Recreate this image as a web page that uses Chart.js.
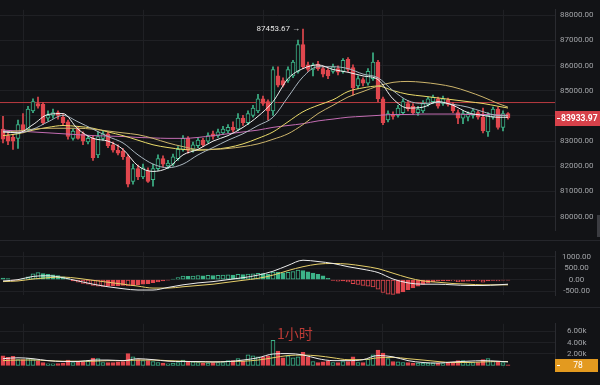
<!DOCTYPE html>
<html><head><meta charset="utf-8">
<script src="https://cdn.jsdelivr.net/npm/chart.js@4.4.1/dist/chart.umd.min.js"></script>
<style>
html,body{margin:0;padding:0;background:#121316;}
body{width:600px;height:385px;position:relative;overflow:hidden;}
.pane{position:absolute;left:0;width:600px;}
.sep{position:absolute;left:0;width:600px;height:1px;background:#25262b;}
#wm{position:absolute;left:277px;top:326px;font:14px/15px "Noto Sans CJK SC",sans-serif;color:#bd3b36;}
#knob{position:absolute;left:597px;top:215px;width:3px;height:22px;background:#3b3c41;}
</style></head><body>
<div class="pane" style="top:0;height:240px"><canvas id="cMain"></canvas></div>
<div class="pane" style="top:240px;height:67px"><canvas id="cMacd"></canvas></div>
<div class="pane" style="top:307px;height:78px"><canvas id="cVol"></canvas></div>
<div class="sep" style="top:240px"></div>
<div class="sep" style="top:307px"></div>
<div id="knob"></div>
<div id="wm">1小时</div>
<script>
// ---------- data (1h BTC candles) ----------
const opens = [83474,83219,83146,83109,83657,83474,84204,84496,84460,83912,
84022,84131,83949,83766,83109,83474,83292,82963,83109,82452,
83109,83292,82854,82635,82598,82379,81394,81905,81576,81832,
81467,81905,82306,82014,82087,82306,82671,83109,82671,82817,
83036,83000,83292,83219,83328,83401,83547,83474,83912,83730,
84022,84204,84679,84569,84204,85591,85409,85409,85591,85774,
86832,86029,85847,86066,85883,85810,85774,85883,85774,86248,
85920,85190,85445,85299,85482,86139,84679,83839,84058,84022,
84131,84496,84387,84131,84204,84460,84569,84679,84496,84642,
84460,84131,83912,83949,84022,84131,83949,83365,83949,84277,
83547,84095];
const highs = [83985,83365,83255,83839,84095,84387,84679,84752,84533,84204,
84277,84204,84058,83839,83474,83547,83365,83219,83219,83365,
83401,83365,82963,82854,82708,82452,82087,82051,82087,81941,
82087,82452,82416,82233,82489,82781,83219,83182,82963,83146,
83109,83328,83401,83474,83584,83657,83766,84095,84022,84204,
84423,84861,84788,84642,85956,85956,85518,85956,86212,87015,
87453.67,86139,86102,86175,85956,85883,86066,85993,86285,86321,
86029,85591,85518,85883,86504,86212,84752,84204,84168,84423,
84679,84606,84496,84387,84606,84752,84825,84752,84788,84715,
84533,84241,84204,84168,84277,84204,84314,84131,84350,84350,
84204,84131];
const lows = [82927,82854,82671,82708,83328,83401,84131,84314,83657,83803,
83912,83876,83657,83073,83036,83073,82854,82890,82233,82343,
83036,82744,82562,82452,82270,81175,81284,81467,81503,81357,
81211,81832,81978,81905,82014,82233,82598,82525,82562,82744,
82781,82927,83073,83146,83255,83328,83365,83401,83620,83657,
83949,84131,84423,83839,84022,85153,85153,85336,85518,85701,
85883,85774,85591,85810,85555,85482,85701,85628,85701,85774,
84825,85080,85190,85226,85409,84569,83657,83766,83876,83949,
84058,84204,84058,84022,84131,84387,84496,84314,84423,84387,
84131,83693,83693,83803,83912,83876,83328,83182,83876,83474,
83401,83876];
const closes = [83073,83000,83000,83657,83401,84277,84569,84387,83730,84022,
84131,84022,83730,83182,83401,83109,83000,83109,82343,83182,
83292,82817,82635,82525,82379,81284,81905,81576,81941,81394,
81905,82306,82087,82124,82379,82671,83109,82635,82854,83036,
82854,83219,83182,83365,83474,83547,83438,83912,83730,84095,
84314,84679,84496,84204,85847,85226,85226,85847,86139,86832,
85956,85847,86029,85883,85664,85591,85956,85737,86212,85847,
85117,85482,85299,85774,86139,84679,83730,84095,83985,84314,
84569,84277,84131,84277,84496,84679,84752,84387,84679,84460,
84204,83912,84095,84095,84204,83949,83401,84022,84277,83547,
84095,83933.97];
const volumes = [1670,1400,1600,1000,1000,1170,1000,730,500,270,
270,330,400,930,500,600,600,730,1270,1170,
500,500,500,600,670,2070,1500,1000,830,830,
670,500,400,270,400,500,930,730,600,500,
400,400,500,500,500,830,830,1170,730,1830,
1670,1500,1500,1670,4400,2500,1330,1670,1330,1500,
2270,1500,670,500,600,730,500,500,670,670,
1500,500,500,1070,1830,2670,2170,1170,670,600,
500,500,400,400,400,400,400,400,330,400,
500,830,830,600,500,500,1000,1170,730,730,
500,78];
const macdHist = [70,50,-30,-20,40,120,250,310,260,230,
210,180,120,40,-60,-110,-160,-200,-250,-280,
-290,-280,-270,-260,-250,-270,-265,-230,-200,-170,
-130,-100,-60,-20,30,90,160,140,160,180,
170,190,180,190,200,210,200,230,220,240,
250,280,260,230,330,320,300,320,350,420,
400,340,290,230,170,60,-30,-70,-60,-100,
-170,-210,-250,-280,-320,-420,-560,-630,-640,-600,
-530,-440,-360,-280,-210,-150,-100,-60,-40,-40,
-60,-90,-80,-70,-50,-60,-110,-60,-30,-50,
-20,-15];
// indicator lines, sampled at these candle indices
const maIdx = [0,3,6,9,12,15,18,21,24,27,30,33,36,39,42,45,48,51,54,57,60,63,66,69,72,75,78,81,84,87,90,93,96,99,101];
const ma5 = [83364.5,83328,83656.5,84058,84094.5,83474,83109,82999.5,82671,82014,81795,81941,82452,82671,82999.5,83218.5,83547,83985,84569,85481.5,85883,86029,85846.5,85737,85591,85445,84678.5,84313.5,84350,84569,84423,84131,84021.5,83948.5,83948.5];
const ma10 = [83401,83328,83474,83766,84021.5,83766,83474,83182,82926.5,82452,82087,81941,82087,82452,82744,83036,83291.5,83620,83948.5,84751.5,85554.5,85956,85956,85883,85664,85518,85007,84605.5,84496,84532.5,84459.5,84350,84167.5,84021.5,84021.5];
const ma20 = [83218.5,83291.5,83437.5,83547,83620,83583.5,83510.5,83364.5,83218.5,83036,82853.5,82744,82671,82634.5,82671,82744,82890,83109,83364.5,83766,84167.5,84423,84642,84970.5,85116.5,85189.5,85007,84861,84788,84715,84642,84569,84496,84386.5,84313.5];
const ma30 = [83364.5,83401,83474,83510.5,83510.5,83510.5,83474,83401,83328,83255,83109,82926.5,82780.5,82671,82671,82707.5,82780.5,82890,83072.5,83291.5,83656.5,84094.5,84423,84751.5,84970.5,85189.5,85335.5,85372,85335.5,85262.5,85153,84970.5,84751.5,84496,84350];
const ma60 = [83437.5,83401,83364.5,83328,83291.5,83255,83218.5,83200,83182,83145.5,83127,83109,83109,83145.5,83218.5,83291.5,83364.5,83437.5,83547,83620,83693,83802.5,83875.5,83948.5,83985,84021.5,84058,84058,84076,84076,84076,84058,84058,84040,84021.5];
const dif = [-56.5,0,141.3,169.5,84.8,-56.5,-197.8,-310.8,-395.5,-452,-452,-339,-226,-141.3,-84.8,0,84.8,197.8,367.3,621.5,847.5,791,706.3,565,452,310.8,28.3,-141.3,-197.8,-197.8,-226,-254.3,-254.3,-226,-197.8];
const dea = [-84.8,-56.5,28.3,84.8,113,56.5,-28.3,-113,-197.8,-282.5,-367.3,-367.3,-310.8,-254.3,-197.8,-113,-28.3,56.5,197.8,395.5,565,678,706.3,678,593.3,480.3,282.5,84.8,-56.5,-113,-169.5,-197.8,-226,-226,-226];
const vma5 = [1170,1330,1170,830,670,670,930,930,830,1170,1000,730,670,670,600,670,930,1330,2000,2070,1830,1170,830,830,1000,1730,1500,830,500,400,600,730,830,730,600];
const vma10 = [830,930,930,830,730,730,730,830,830,930,930,830,730,600,600,670,730,930,1330,1730,1800,1670,1330,1000,1000,1330,1400,1170,930,670,500,500,600,670,670];
// axis ticks and markers
const priceTicks = [80000,81000,82000,83000,84000,85000,86000,87000,88000];
const macdTicks = [-500,0,500,1000];
const volTicks = [2000,4000,6000];
const dayGrid = [4,28,52,76,100];
const refPrice = 84532.5;

// ---------- styling ----------
const BG = '#121316', GRID = '#1f2024', AXIS = '#2a2b30', TICK = '#a2a4a8';
const RED = '#e0474e', GREEN = '#3db489';
const X_MIN = -0.6, X_MAX = 110.4;
const idx = closes.map((_, i) => i);
const up = idx.map(i => closes[i] >= opens[i]);
const lastPrice = closes[closes.length - 1];
const highMax = Math.max(...highs);
const highIdx = highs.indexOf(highMax);

const xScale = () => ({
  type: 'linear', min: X_MIN, max: X_MAX, offset: false,
  afterBuildTicks: s => { s.ticks = dayGrid.map(v => ({value: v})); },
  ticks: {display: false},
  grid: {color: GRID, drawTicks: false, offset: false},
  border: {display: false}
});
const yScale = (min, max, ticks, fmt, pad) => ({
  type: 'linear', position: 'right', min, max,
  afterBuildTicks: s => { s.ticks = ticks.map(v => ({value: v})); },
  afterFit: s => { s.width = 45; },
  ticks: {color: TICK, font: {family: 'Roboto', size: 8}, padding: pad, crossAlign: 'center', callback: fmt},
  grid: {color: GRID, drawTicks: false},
  border: {display: true, color: AXIS}
});
const baseOpts = (scales) => ({
  responsive: true, maintainAspectRatio: false, animation: false, events: [],
  devicePixelRatio: 1,
  layout: {padding: 0},
  plugins: {legend: {display: false}, tooltip: {enabled: false}},
  scales
});
const line = (xs, vals, color, order) => ({
  type: 'line', data: xs.map((x, k) => ({x, y: vals[k]})),
  borderColor: color, borderWidth: 1, pointRadius: 0,
  cubicInterpolationMode: 'monotone', order
});

// ---------- main chart ----------
const mainTags = {
  id: 'mainTags',
  afterDraw(chart) {
    const {ctx, chartArea: a, scales: {x, y}} = chart;
    const py = Math.round(y.getPixelForValue(lastPrice));
    ctx.save();
    ctx.fillStyle = '#d6414a';
    ctx.fillRect(a.right, py - 7, chart.width - a.right, 15);
    ctx.fillStyle = '#ffffff';
    ctx.fillRect(a.right + 2, py, 3, 1);
    ctx.font = 'bold 8.5px Roboto';
    ctx.textBaseline = 'middle'; ctx.textAlign = 'left';
    ctx.fillText(lastPrice.toFixed(2), a.right + 6, py + 0.5);
    const hx = x.getPixelForValue(highIdx), hy = y.getPixelForValue(highMax);
    ctx.font = '8px Roboto'; ctx.fillStyle = '#e4e4e4'; ctx.textAlign = 'right';
    ctx.fillText(highMax.toFixed(2) + ' \u2192', hx - 3, hy);
    ctx.restore();
  }
};
new Chart(document.getElementById('cMain'), {
  type: 'bar',
  data: {datasets: [
    {type: 'line', data: [{x: X_MIN, y: refPrice}, {x: X_MAX, y: refPrice}], borderColor: 'rgba(214,66,72,0.85)', borderWidth: 1, pointRadius: 0, order: 6},
    {data: idx.map(i => ({x: i, y: [lows[i], highs[i]]})), backgroundColor: idx.map(i => up[i] ? GREEN : RED), barThickness: 1, grouped: false, minBarLength: 1, order: 5},
    {data: idx.map(i => ({x: i, y: [opens[i], closes[i]]})), backgroundColor: idx.map(i => up[i] ? BG : RED), borderColor: idx.map(i => up[i] ? GREEN : RED), borderWidth: 1, borderSkipped: false, barThickness: 4, grouped: false, minBarLength: 1, order: 4},
    line(maIdx, ma60, '#c46db3', 3),
    line(maIdx, ma30, '#cdb56c', 2),
    line(maIdx, ma20, '#ebdc6a', 2),
    line(maIdx, ma10, '#aab7c0', 1),
    line(maIdx, ma5, '#f2f2f2', 0)
  ]},
  options: baseOpts({x: xScale(), y: yScale(79459, 88219, priceTicks, v => v.toFixed(2), 5)}),
  plugins: [mainTags]
});

// ---------- MACD ----------
const histBorder = macdHist.map(v => v >= 0 ? GREEN : RED);
const histFill = macdHist.map((v, i) => {
  const prev = i > 0 ? macdHist[i - 1] : 0;
  const hollow = Math.sign(v) === Math.sign(prev) && Math.abs(v) > Math.abs(prev);
  return hollow ? BG : (v >= 0 ? GREEN : RED);
});
new Chart(document.getElementById('cMacd'), {
  type: 'bar',
  data: {datasets: [
    {data: idx.map(i => ({x: i, y: macdHist[i]})), backgroundColor: histFill, borderColor: histBorder, borderWidth: 1, borderSkipped: false, barThickness: 4, grouped: false, order: 3},
    line(maIdx, dea, '#e6cf6a', 1),
    line(maIdx, dif, '#ececec', 0)
  ]},
  options: baseOpts({x: xScale(), y: yScale(-678, 1214.75, macdTicks, v => v.toFixed(2), 7)})
});

// ---------- volume ----------
const volTag = {
  id: 'volTag',
  afterDraw(chart) {
    const {ctx, chartArea: a, scales: {y}} = chart;
    const v = volumes[volumes.length - 1];
    const py = Math.round(y.getPixelForValue(v));
    ctx.save();
    ctx.fillStyle = '#e39a1f';
    ctx.fillRect(a.right, py - 6, chart.width - a.right - 2, 13);
    ctx.fillStyle = '#ffffff';
    ctx.fillRect(a.right + 2, py, 3, 1);
    ctx.font = '8.5px Roboto'; ctx.textBaseline = 'middle'; ctx.textAlign = 'center';
    ctx.fillText(String(v), a.right + 23, py + 0.5);
    ctx.restore();
  }
};
new Chart(document.getElementById('cVol'), {
  type: 'bar',
  data: {datasets: [
    {data: idx.map(i => ({x: i, y: volumes[i]})), backgroundColor: idx.map(i => up[i] ? BG : RED), borderColor: idx.map(i => up[i] ? GREEN : RED), borderWidth: 1, borderSkipped: false, barThickness: 4, grouped: false, order: 3},
    line(maIdx, vma10, '#e6cf6a', 1),
    line(maIdx, vma5, '#ececec', 0)
  ]},
  options: baseOpts({x: xScale(), y: yScale(-500, 7300, volTicks, v => (v / 1000).toFixed(2) + 'k', 12)}),
  plugins: [volTag]
});
</script>
</body></html>
